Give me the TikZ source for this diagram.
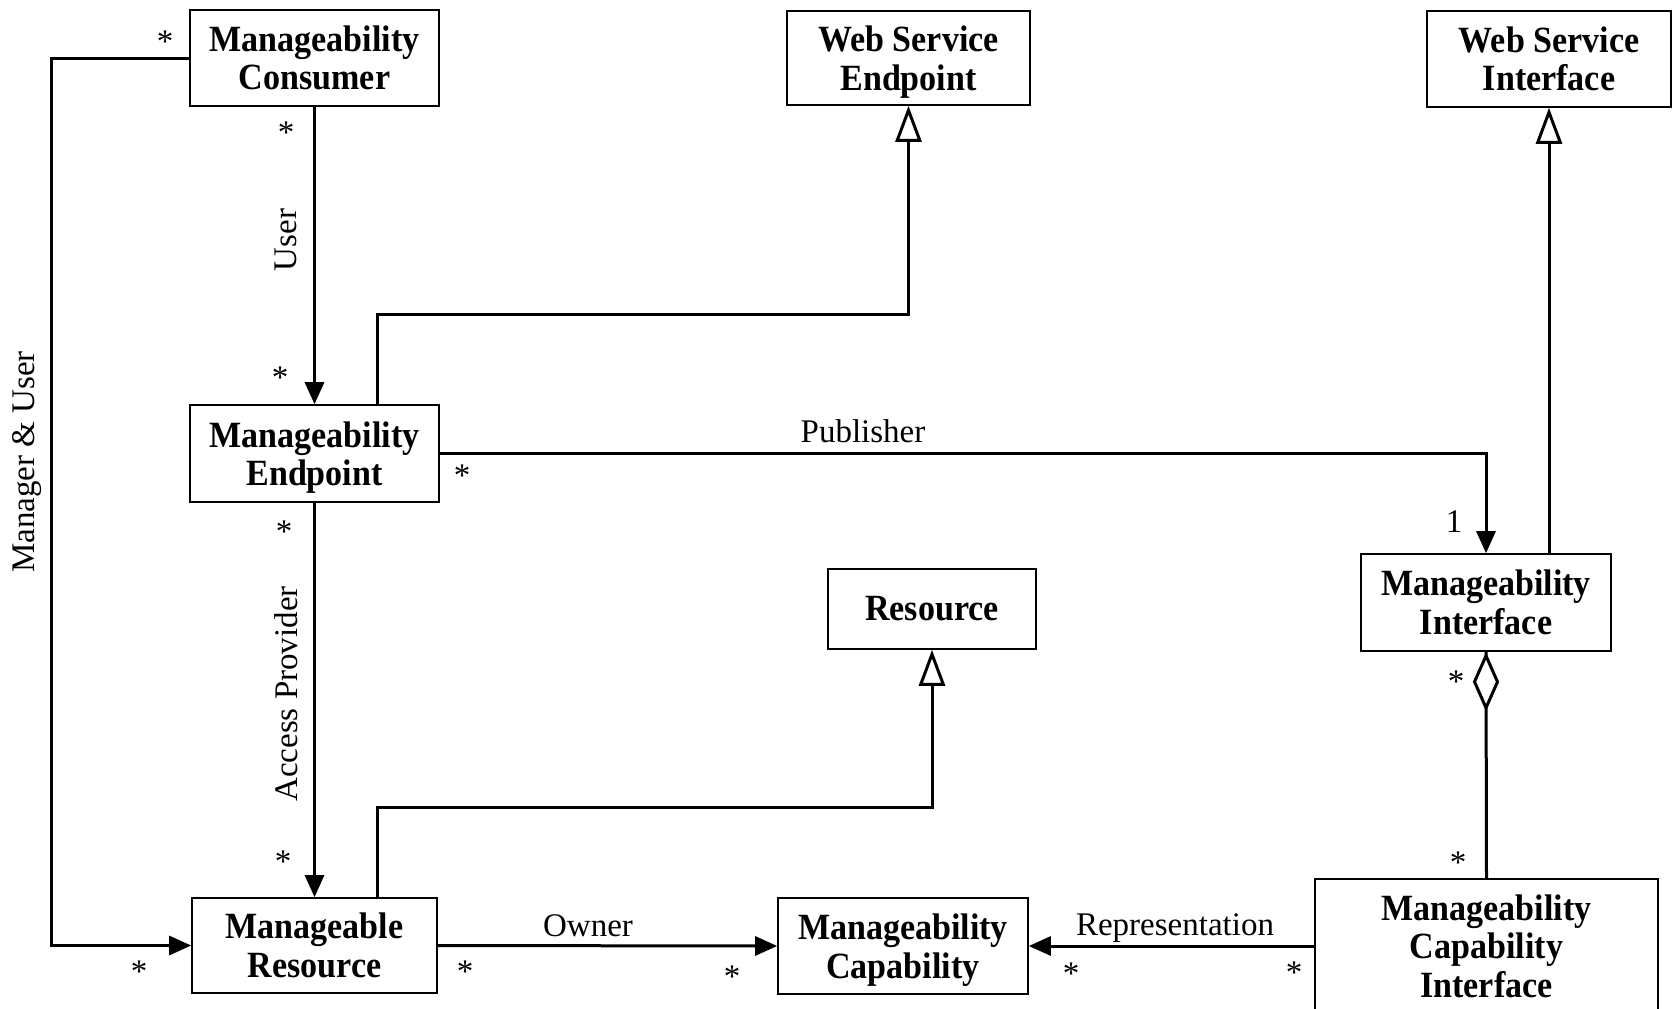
\documentclass[tikz,border=0pt]{standalone}
\usepackage{fontspec}
\setmainfont{Liberation Serif}
\newfontfamily\boxfont[FakeStretch=0.92]{Liberation Serif}
\usetikzlibrary{arrows.meta}
% last line without its descender, so every class name sits on the same baselines
\newcommand\nodepth[1]{\raisebox{0pt}[\height][0pt]{#1}}
\begin{document}
\begin{tikzpicture}[x=1pt,y=-1pt,
  cls/.style={draw,line width=1.6pt,inner sep=0pt,align=center,
    font=\boxfont\fontsize{37}{38.5}\selectfont\bfseries},
  assoc/.style={line width=3pt,-{Triangle[length=22pt,width=19pt]}},
  gen/.style={line width=3pt,line join=miter,
    -{Triangle[open,length=36pt,width=26pt,fill=white]}},
  link/.style={line width=3pt},
  diam/.style={line width=3pt,line join=miter,fill=white},
  lbl/.style={inner sep=0pt,font=\fontsize{33}{36}\selectfont},
  mult/.style={inner sep=0pt,font=\fontsize{33}{36}\selectfont}]
\useasboundingbox (0,0) rectangle (1674,1009);

% classes
\node[cls,minimum width=249pt,minimum height=96pt] (mc) at (314.5,58) {Manageability\\Consumer};
\node[cls,minimum width=243pt,minimum height=94pt] (wse) at (908.5,58) {Web Service\\\nodepth{Endpoint}};
\node[cls,minimum width=244pt,minimum height=96pt] (wsi) at (1549,59) {Web Service\\Interface};
\node[cls,minimum width=249pt,minimum height=97pt] (me) at (314.5,453.5) {Manageability\\\nodepth{Endpoint}};
\node[cls,minimum width=250pt,minimum height=97pt] (mi) at (1486,602.5) {Manageability\\Interface};
\node[cls,minimum width=208pt,minimum height=80pt] (res) at (932,609) {Resource};
\node[cls,minimum width=245pt,minimum height=95pt] (mr) at (314.5,945.5) {Manageable\\Resource};
\node[cls,minimum width=250pt,minimum height=96pt] (mcap) at (903,946) {Manageability\\\nodepth{Capability}};
\node[cls,minimum width=343pt,minimum height=134pt] (mci) at (1486.5,946) {Manageability\\Capability\\Interface};

% associations
\draw[assoc] (mc.south) -- (me.north);
\draw[assoc] (mc.west) -- ++(-138,0) |- (mr.west);
\draw[assoc] (me.east) -| (mi.north);
\draw[assoc] (me.south) -- (mr.north);
\draw[assoc] (mr.east) -- (mcap.west);
\draw[assoc] (mci.west) -- (mcap.east);

% generalisations
\draw[gen] ([xshift=62.5pt]me.north) -- ++(0,-90) -| (wse.south);
\draw[gen] (mi.north -| wsi.south) -- (wsi.south);
\draw[gen] ([xshift=62.5pt]mr.north) -- ++(0,-90) -| (res.south);

% aggregation: line with a hollow diamond at the whole end
\draw[link] (mci.north) -- (mi.south);
\draw[diam] ([yshift=-4pt]mi.south) -- ++(11.5,26) -- ++(-11.5,26) -- ++(-11.5,-26) -- cycle;

% role names
\node[lbl,rotate=90] (lUser) at (286,240) {User};
\node[lbl,rotate=90] (lMU) at (27,462) {Manager \& User};
\node[lbl,rotate=90] (lAP) at (286,694) {Access Provider};
\node[lbl] (lPub) at (863,431) {Publisher};
\node[lbl] (lOwn) at (588,926) {Owner};
\node[lbl] (lRep) at (1175,928) {Representation};

% multiplicities
\node[mult] (m1) at (165,42) {*};
\node[mult] (m2) at (286,133) {*};
\node[mult] (m3) at (280,378) {*};
\node[mult] (m4) at (139,972) {*};
\node[mult] (m5) at (462,476) {*};
\node[mult] (m6) at (1454,522) {1};
\node[mult] (m7) at (284,532) {*};
\node[mult] (m8) at (283,862) {*};
\node[mult] (m9) at (1456,682) {*};
\node[mult] (m10) at (1458,863) {*};
\node[mult] (m11) at (465,972) {*};
\node[mult] (m12) at (732,977) {*};
\node[mult] (m13) at (1071,974) {*};
\node[mult] (m14) at (1294,973) {*};
\end{tikzpicture}
\end{document}
